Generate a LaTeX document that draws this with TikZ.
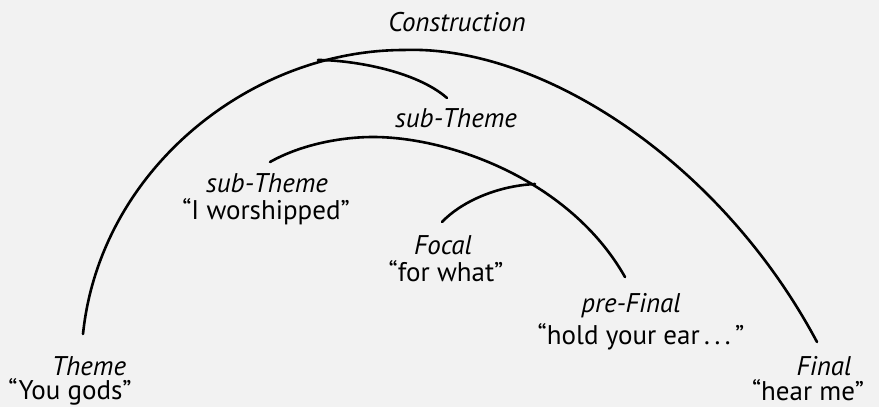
\documentclass[tikz,border=0pt]{standalone}
\usepackage{fontspec}
\setmainfont{PT Sans}
\begin{document}
\begin{tikzpicture}[x=1pt,y=-1pt,
  arc/.style={line width=2.6pt,line cap=round},
  lab/.style={font=\fontsize{27}{32}\selectfont\itshape,inner sep=0pt},
  quo/.style={font=\fontsize{27}{32}\selectfont,inner sep=0pt}]
\fill[white!95!black] (0,0) rectangle (879,407);
\useasboundingbox (0,0) rectangle (879,407);
% coordinates
\coordinate (A) at (83,334);
\coordinate (P) at (404,50);
\coordinate (F) at (817,342);
\coordinate (B1) at (318,60);
\coordinate (E1) at (447,98);
\coordinate (M0) at (270,162);
\coordinate (MP) at (373,137);
\coordinate (ME) at (625,277);
\coordinate (B2) at (535,184);
\coordinate (E2) at (442,222);
% arcs
\draw[arc] (A) .. controls (100,170) and (250,50) .. (P)
  .. controls (540,45) and (720,160) .. (F);
\draw[arc] (B1) .. controls (350,60) and (415,70) .. (E1);
\draw[arc] (M0) .. controls (300,145) and (340,137) .. (MP)
  .. controls (450,137) and (570,180) .. (ME);
\draw[arc] (E2) .. controls (460,203) and (495,186) .. (B2);
% labels
\node[lab] (con) at (457,22) {Construction};
\node[lab] (st1) at (456,118) {sub-Theme};
\node[lab] (st2) at (267,183) {sub-Theme};
\node[quo] (st2q) at (266,212) {“I worshipped”};
\node[lab] (foc) at (443,245) {Focal};
\node[quo] (focq) at (446,271) {“for what”};
\node[lab] (pf) at (631,306) {pre-Final};
\node[quo] (pfq) at (641,337) {“hold your ear\,.\,.\,.\,”};
\node[lab] (th) at (89,366) {Theme};
\node[quo] (thq) at (70,392) {“You gods”};
\node[lab] (fi) at (824,366) {Final};
\node[quo] (fiq) at (808,390) {“hear me”};
\end{tikzpicture}
\end{document}
